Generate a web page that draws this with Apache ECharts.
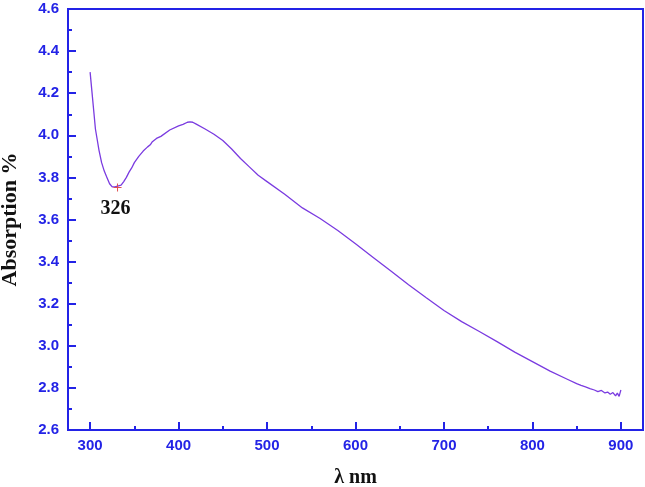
<!DOCTYPE html>
<html>
<head>
<meta charset="utf-8">
<script src="https://cdn.jsdelivr.net/npm/echarts@6/dist/echarts.min.js"></script>
<style>
  html, body { margin: 0; padding: 0; background: #fff; }
  #main { width: 645px; height: 487px; }
</style>
</head>
<body>
<div id="main"></div>
<script>
// wavelength (nm) and absorption (%)
var wavelength = [300, 302, 304, 306, 308, 310, 313, 316, 319, 322, 325, 326, 328, 330, 332, 335, 338, 341, 344, 347,
  350, 355, 360, 365, 368, 370, 375, 380, 390, 400, 405, 410, 413, 416, 420, 430, 440, 450, 460, 470,
  480, 490, 500, 520, 540, 560, 580, 600, 620, 640, 660, 680, 700, 720, 740, 760, 780, 800, 820, 840,
  850, 855, 860, 865, 870, 874, 878, 882, 885, 888, 891, 894, 896, 898, 899, 900];
var absorption = [4.30, 4.21, 4.12, 4.03, 3.98, 3.93, 3.87, 3.83, 3.80, 3.77, 3.755, 3.75, 3.755, 3.752, 3.76, 3.763, 3.78, 3.80, 3.825, 3.845,
  3.87, 3.90, 3.925, 3.945, 3.955, 3.968, 3.985, 3.995, 4.025, 4.045, 4.052, 4.062, 4.064, 4.062, 4.053, 4.03, 4.005, 3.975, 3.935, 3.89,
  3.85, 3.81, 3.78, 3.72, 3.655, 3.605, 3.548, 3.485, 3.42, 3.355, 3.29, 3.228, 3.168, 3.115, 3.068, 3.02, 2.97, 2.925, 2.88, 2.84,
  2.82, 2.812, 2.805, 2.797, 2.79, 2.782, 2.788, 2.776, 2.78, 2.77, 2.778, 2.762, 2.775, 2.76, 2.775, 2.79];
var minMark = { label: '326', coord: [331, 3.752] };

var blue = '#2323e6';
var lineData = wavelength.map(function (w, i) { return [w, absorption[i]]; });

var chart = echarts.init(document.getElementById('main'));
chart.setOption({
  backgroundColor: '#fff',
  animation: false,
  grid: {
    left: 68, right: 2, top: 9, bottom: 57,
    outerBoundsMode: 'none',
    containLabel: false,
    show: true, borderColor: blue, borderWidth: 2
  },
  xAxis: [{
    type: 'value',
    min: 275, max: 925, splitNumber: 6,
    name: 'λ nm',
    nameLocation: 'middle',
    nameGap: 38,
    nameTextStyle: { fontFamily: 'Liberation Serif', fontWeight: 'bold', fontSize: 20, color: '#111' },
    axisLine: { lineStyle: { color: blue, width: 2 } },
    axisTick: { inside: true, length: 8, lineStyle: { color: blue, width: 2 } },
    axisLabel: {
      margin: 8, showMinLabel: false, showMaxLabel: false,
      fontFamily: 'Liberation Sans', fontWeight: 'bold', fontSize: 15, color: blue
    },
    splitLine: { show: false }
  }, {
    // shorter ticks every 50 nm
    type: 'value',
    position: 'bottom',
    min: 275, max: 925, splitNumber: 13,
    axisLine: { show: false },
    axisTick: { inside: true, length: 4, lineStyle: { color: blue, width: 2 } },
    axisLabel: { show: false },
    splitLine: { show: false }
  }],
  yAxis: {
    type: 'value',
    min: 2.6, max: 4.6, interval: 0.2,
    name: 'Absorption %',
    nameLocation: 'middle',
    nameGap: 47,
    nameTextStyle: { fontFamily: 'Liberation Serif', fontWeight: 'bold', fontSize: 22, color: '#111' },
    axisLine: { show: true, lineStyle: { color: blue, width: 2 } },
    axisTick: { show: true, inside: true, length: 8, lineStyle: { color: blue, width: 2 } },
    minorTick: { show: true, splitNumber: 2, length: 4, lineStyle: { color: blue, width: 2 } },
    axisLabel: {
      margin: 9,
      fontFamily: 'Liberation Sans', fontWeight: 'bold', fontSize: 15, color: blue,
      formatter: function (v) { return v.toFixed(1); }
    },
    splitLine: { show: false }
  },
  series: [{
    type: 'line',
    xAxisIndex: 0,
    data: lineData,
    showSymbol: false,
    smooth: false,
    lineStyle: { color: '#7a3be0', width: 1.3 },
    markPoint: {
      symbol: 'path://M0,5L10,5M5,0L5,10',
      symbolSize: 8,
      itemStyle: { color: 'none', borderColor: '#e05050', borderWidth: 1 },
      label: {
        show: true,
        offset: [-2, 21],
        fontFamily: 'Liberation Serif', fontWeight: 'bold', fontSize: 20, color: '#111',
        formatter: minMark.label
      },
      data: [{ coord: minMark.coord }]
    }
  }]
});
</script>
</body>
</html>
